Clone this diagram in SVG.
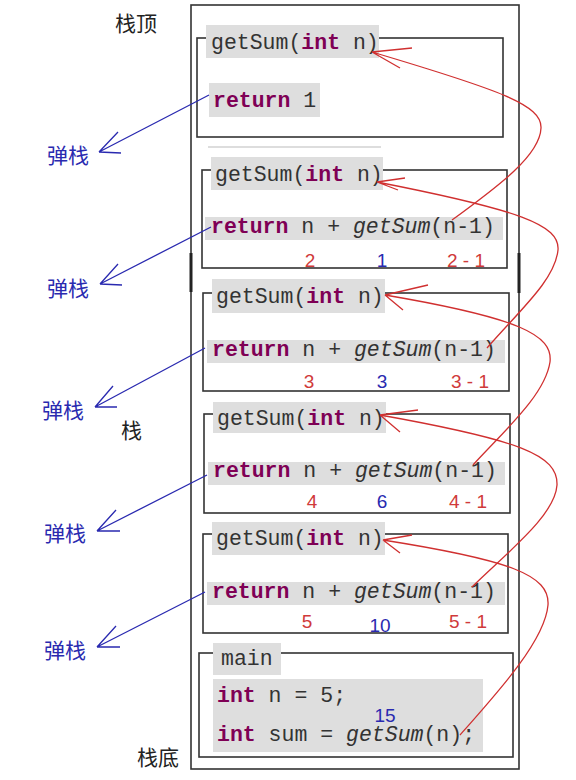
<svg xmlns="http://www.w3.org/2000/svg" width="576" height="780" viewBox="0 0 576 780">
<style>
.frame{fill:none;stroke:#333;stroke-width:1.6}
.bg{fill:#dedede}
.code{font-family:"Liberation Mono","DejaVu Sans Mono",monospace;font-size:21.5px;fill:#333}
.kw{fill:#7f0055;font-weight:bold}
.it{font-style:italic}
.num{font-family:"Liberation Sans",Arial,sans-serif;font-size:19px;text-anchor:middle}
.r{fill:#d03a3a}
.b{fill:#2a2ab0}
.cjk{font-family:"Noto Sans CJK SC","Noto Sans",sans-serif;font-size:21px}
.pop{fill:#2a2ab0}
.blue{fill:none;stroke:#2a2ab0;stroke-width:1.3}
.red{fill:none;stroke:#d03030;stroke-width:1.3}
</style>
<rect width="576" height="780" fill="#fff"/>
<g id="stack">
<rect x="191" y="5" width="328" height="764" class="frame"/>
<line x1="191" y1="253" x2="191" y2="292" stroke="#222" stroke-width="3"/>
<line x1="519" y1="253" x2="519" y2="293" stroke="#222" stroke-width="3"/>
<line x1="208" y1="147" x2="381" y2="147" stroke="#ddd" stroke-width="2"/>
</g>
<g id="labels">
<text x="115" y="31" class="cjk" fill="#222">栈顶</text>
<text x="121" y="438" class="cjk" fill="#222">栈</text>
<text x="137" y="765" class="cjk" fill="#222">栈底</text>
<text x="47" y="163" class="cjk pop">弹栈</text>
<text x="47" y="296" class="cjk pop">弹栈</text>
<text x="42" y="418" class="cjk pop">弹栈</text>
<text x="44" y="541" class="cjk pop">弹栈</text>
<text x="44" y="658" class="cjk pop">弹栈</text>
</g>
<g id="frame1">
<rect x="197" y="38" width="306" height="99" class="frame"/>
<rect x="206" y="25" width="173" height="33" class="bg"/>
<text x="211" y="49" class="code">getSum(<tspan class="kw">int</tspan> n)</text>
<rect x="209" y="83" width="111" height="34" class="bg"/>
<text x="213" y="107" class="code"><tspan class="kw">return</tspan> 1</text>
</g>
<g id="frame2">
<rect x="202" y="170" width="305" height="98" class="frame"/>
<rect x="211" y="157" width="172" height="33" class="bg"/>
<text x="215" y="181" class="code">getSum(<tspan class="kw">int</tspan> n)</text>
<rect x="205" y="217" width="298" height="23" class="bg"/>
<text x="211" y="233" class="code"><tspan class="kw">return</tspan> n + <tspan class="it">getSum</tspan>(n-1)</text>
<text x="310" y="267" class="num r">2</text>
<text x="382" y="267" class="num b">1</text>
<text x="466" y="267" class="num r">2 - 1</text>
</g>
<g id="frame3">
<rect x="203" y="293" width="306" height="98" class="frame"/>
<rect x="212" y="279" width="173" height="34" class="bg"/>
<text x="216" y="303" class="code">getSum(<tspan class="kw">int</tspan> n)</text>
<rect x="207" y="340" width="298" height="23" class="bg"/>
<text x="212" y="356" class="code"><tspan class="kw">return</tspan> n + <tspan class="it">getSum</tspan>(n-1)</text>
<text x="309" y="388" class="num r">3</text>
<text x="382" y="388" class="num b">3</text>
<text x="470" y="388" class="num r">3 - 1</text>
</g>
<g id="frame4">
<rect x="204" y="414" width="306" height="99" class="frame"/>
<rect x="213" y="402" width="173" height="31" class="bg"/>
<text x="217" y="425" class="code">getSum(<tspan class="kw">int</tspan> n)</text>
<rect x="208" y="462" width="297" height="23" class="bg"/>
<text x="213" y="477" class="code"><tspan class="kw">return</tspan> n + <tspan class="it">getSum</tspan>(n-1)</text>
<text x="312" y="508" class="num r">4</text>
<text x="382" y="508" class="num b">6</text>
<text x="468" y="508" class="num r">4 - 1</text>
</g>
<g id="frame5">
<rect x="203" y="534" width="305" height="99" class="frame"/>
<rect x="212" y="522" width="173" height="33" class="bg"/>
<text x="216" y="545" class="code">getSum(<tspan class="kw">int</tspan> n)</text>
<rect x="207" y="582" width="298" height="23" class="bg"/>
<text x="212" y="598" class="code"><tspan class="kw">return</tspan> n + <tspan class="it">getSum</tspan>(n-1)</text>
<text x="307" y="628" class="num r">5</text>
<text x="380" y="632" class="num b">10</text>
<text x="468" y="628" class="num r">5 - 1</text>
</g>
<g id="main">
<rect x="199" y="653" width="314" height="104" class="frame"/>
<rect x="213" y="643" width="68" height="32" class="bg"/>
<text x="221" y="665" class="code">main</text>
<rect x="213" y="679" width="270" height="73" class="bg"/>
<text x="217" y="702" class="code"><tspan class="kw">int</tspan> n = 5;</text>
<text x="217" y="741" class="code"><tspan class="kw">int</tspan> sum = <tspan class="it">getSum</tspan>(n);</text>
<text x="385" y="722" class="num b">15</text>
</g>
<g id="connectors">
<path class="blue" d="M209,95 L99,152 M99,152 L118,132 M99,152 L121,153"/>
<path class="blue" d="M211,227 L100,284 M100,284 L118,264 M100,284 L122,285"/>
<path class="blue" d="M205,348 L95,407 M95,407 L113,386 M95,407 L117,407"/>
<path class="blue" d="M207,475 L97,531 M97,531 L116,510 M97,531 L120,531"/>
<path class="blue" d="M205,592 L97,647 M97,647 L116,626 M97,647 L120,647"/>
<path class="red" d="M460,735 C500,690 545,640 548,605 C550,575 510,560 383,540 M383,540 L412,535 M383,540 L400,553"/>
<path class="red" d="M472,587 C510,550 555,515 557,485 C558,455 520,440 380,415 M380,415 L418,410 M380,415 L400,432"/>
<path class="red" d="M473,465 C505,430 545,395 550,362 C553,335 520,318 385,295 M385,295 L428,285 M385,295 L403,310"/>
<path class="red" d="M487,348 C520,310 555,280 558,250 C560,225 520,210 377,182 M377,182 L405,178 M377,182 L398,190"/>
<path class="red" d="M452,220 C500,185 540,155 541,128 C542,105 500,90 372,52 M372,52 L412,48 M372,52 L400,68"/>
</g>
</svg>
